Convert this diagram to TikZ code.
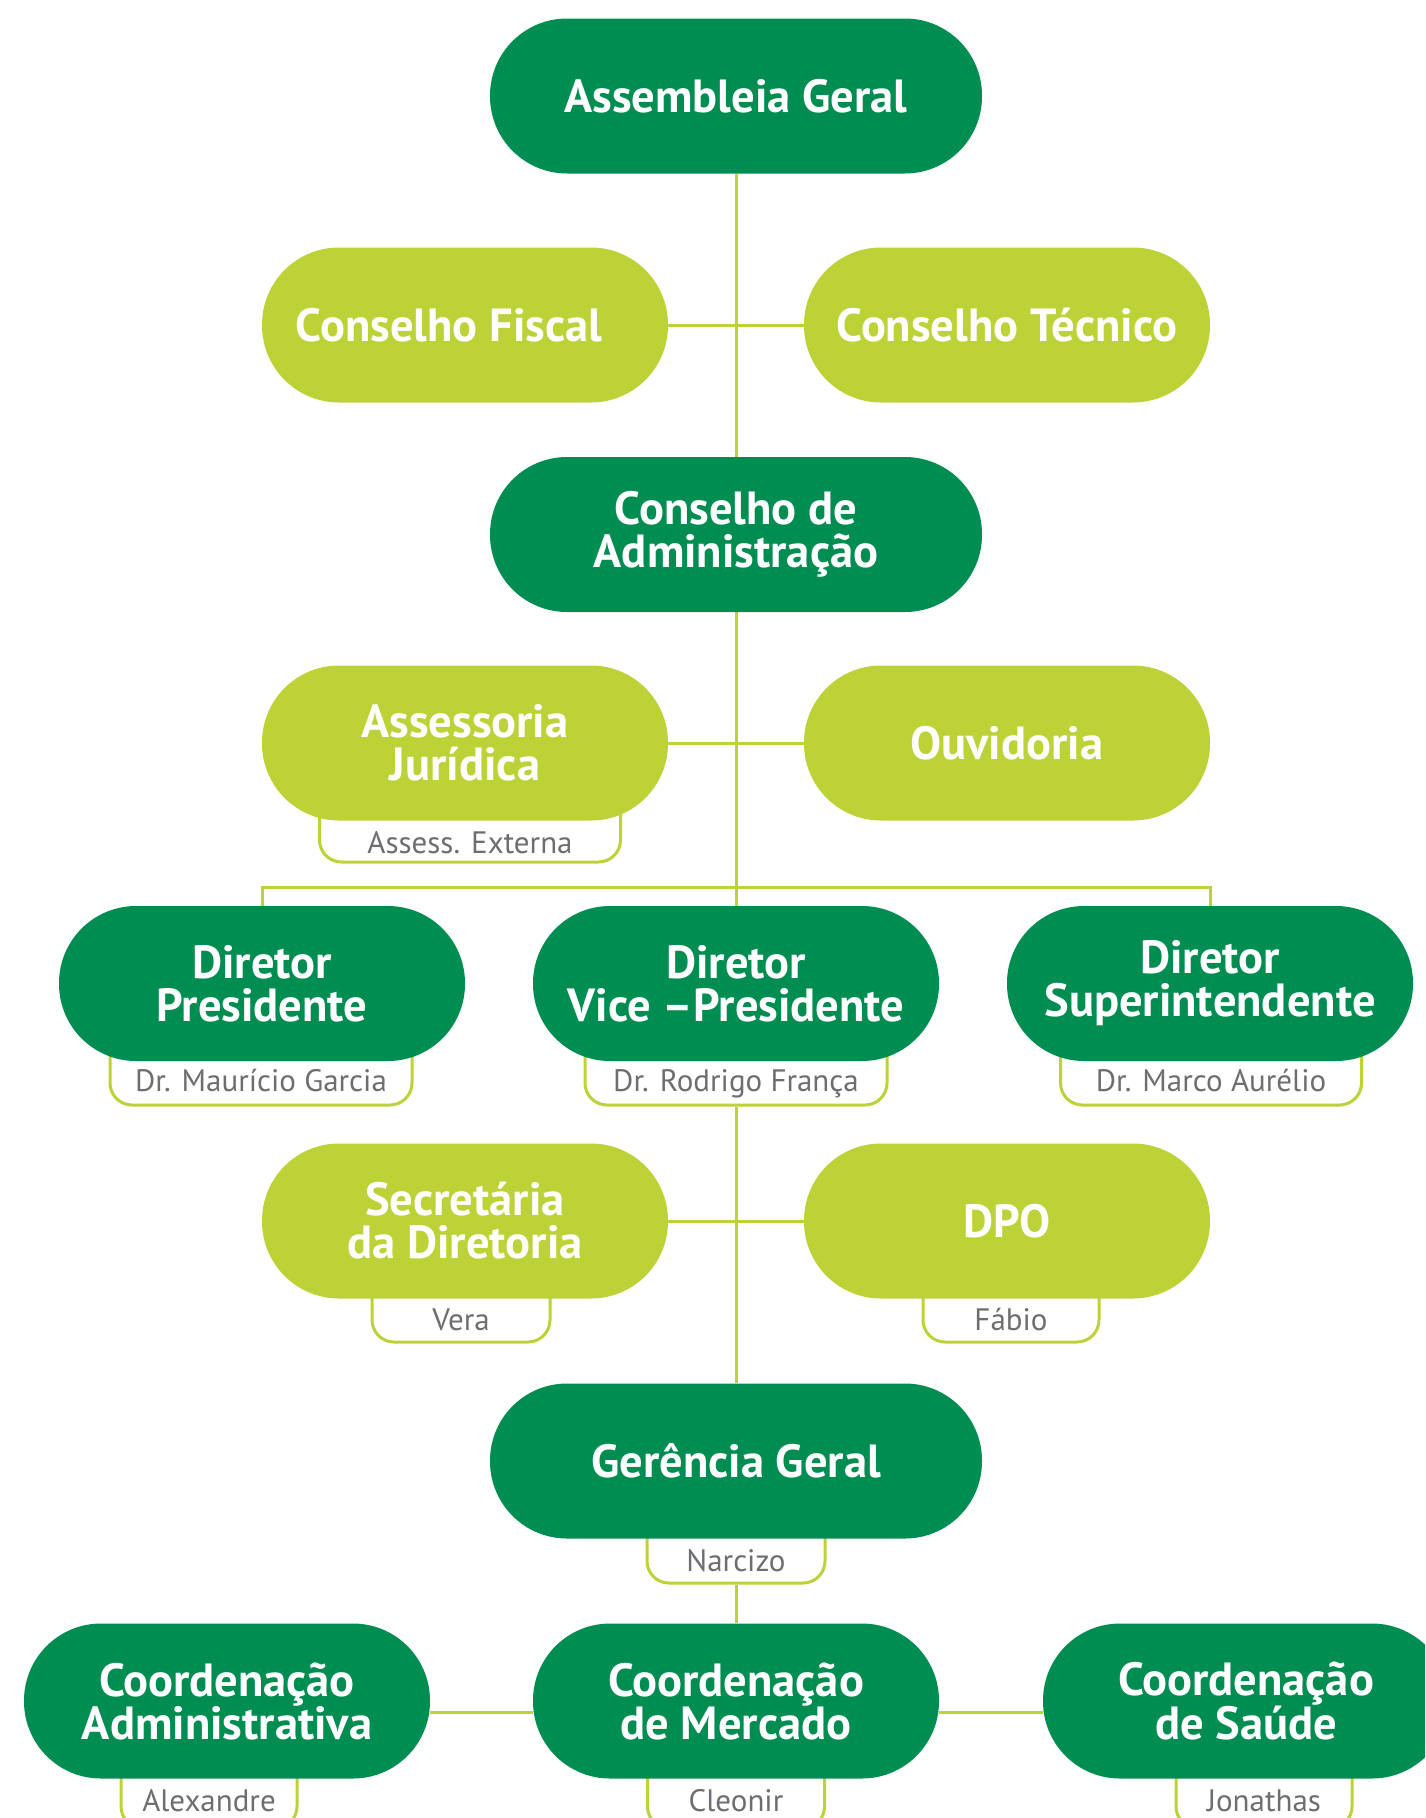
\documentclass[tikz,border=0pt]{standalone}
\usepackage{fontspec}
\setmainfont{PT Sans}
\usetikzlibrary{backgrounds}
\definecolor{dgreen}{RGB}{0,141,82}
\definecolor{lime}{RGB}{189,210,55}
\definecolor{subgray}{RGB}{109,110,113}
\begin{document}
\begin{tikzpicture}[x=1pt,y=-1pt,
  pill/.style={rectangle, rounded corners=77pt, minimum height=155pt, inner sep=0pt, text=white,
    font=\fontsize{46.5}{43}\selectfont\bfseries, align=center},
  gpill/.style={pill, fill=dgreen},
  lpill/.style={pill, fill=lime},
  wide/.style={minimum width=492pt},
  narrow/.style={minimum width=406pt},
  subbox/.style={rectangle, draw=lime, line width=3pt, fill=white, rounded corners=22pt, inner sep=0pt,
    minimum height=80pt, anchor=south},
  subtext/.style={text=subgray, font=\fontsize{31}{33}\selectfont, anchor=base, inner sep=0pt},
  conn/.style={draw=lime, line width=3pt}]
\clip (0,0) rectangle (1425,1818);

% sub boxes (under pills)
\node[subbox, minimum width=301pt] (ajbox) at (470,863.5) {};
\node[subbox, minimum width=302pt] (dpbox) at (261,1106.5) {};
\node[subbox, minimum width=302pt] (vpbox) at (736,1106.5) {};
\node[subbox, minimum width=301pt] (dsbox) at (1211,1106.5) {};
\node[subbox, minimum width=178pt] (sdbox) at (461,1343.5) {};
\node[subbox, minimum width=176pt] (dpobox) at (1011,1343.5) {};
\node[subbox, minimum width=178pt] (ggbox) at (736,1584.5) {};
\node[subbox, minimum width=176pt] (cadbox) at (209,1830) {};
\node[subbox, minimum width=177pt] (cmbox) at (736,1830) {};
\node[subbox, minimum width=176pt] (csbox) at (1264,1830) {};

% pills
\node[gpill, wide] (ag) at (736,96) {Assembleia Geral};
\node[lpill, narrow] (cf) at (465,325) {\hspace*{-32pt}Conselho Fiscal};
\node[lpill, narrow] (ct) at (1007,325) {Conselho Técnico};
\node[gpill, wide] (ca) at (736,534.5) {Conselho de\\Administração};
\node[lpill, narrow] (aj) at (465,743) {Assessoria\\Jurídica};
\node[lpill, narrow] (ou) at (1007,743) {Ouvidoria};
\node[gpill, narrow] (dp) at (262,983.5) {Diretor\\Presidente};
\node[gpill, narrow] (vp) at (736,983.5) {Diretor\\Vice –Presidente};
\node[gpill, narrow] (ds) at (1210,983.5) {Diretor\\Superintendente};
\node[lpill, narrow] (sd) at (465,1221) {Secretária\\da Diretoria};
\node[lpill, narrow] (dpo) at (1007,1221) {DPO};
\node[gpill, wide] (gg) at (736,1461) {Gerência Geral};
\node[gpill, narrow] (cad) at (227,1701) {Coordenação\\Administrativa};
\node[gpill, narrow] (cm) at (736,1701) {Coordenação\\de Mercado};
\node[gpill, narrow] (cs) at (1246,1701) {Coordenação\\de Saúde};

% names
\node[subtext] (ajname) at (470,853) {Assess. Externa};
\node[subtext] (dpname) at (261,1091) {Dr. Maurício Garcia};
\node[subtext] (vpname) at (736,1091) {Dr. Rodrigo França};
\node[subtext] (dsname) at (1211,1091) {Dr. Marco Aurélio};
\node[subtext] (sdname) at (461,1330) {Vera};
\node[subtext] (dponame) at (1011,1330) {Fábio};
\node[subtext] (ggname) at (736,1571) {Narcizo};
\node[subtext] (cadname) at (209,1811) {Alexandre};
\node[subtext] (cmname) at (736,1811) {Cleonir};
\node[subtext] (csname) at (1264,1811) {Jonathas};

% connectors
\begin{scope}[on background layer]
\draw[conn] (ag.south) -- (ca.north);
\draw[conn] (cf.east) -- (ct.west);
\draw[conn] (ca.south) -- (vp.north);
\draw[conn] (aj.east) -- (ou.west);
\draw[conn] (dp.north) -- ++(0,-18) -| (ds.north);
\draw[conn] (vpbox.south) -- (gg.north);
\draw[conn] (sd.east) -- (dpo.west);
\draw[conn] (ggbox.south) -- (cm.north);
\draw[conn] ([yshift=-11pt]cad.east) -- ([yshift=-11pt]cm.west);
\draw[conn] ([yshift=-11pt]cm.east) -- ([yshift=-11pt]cs.west);
\end{scope}
\end{tikzpicture}
\end{document}
